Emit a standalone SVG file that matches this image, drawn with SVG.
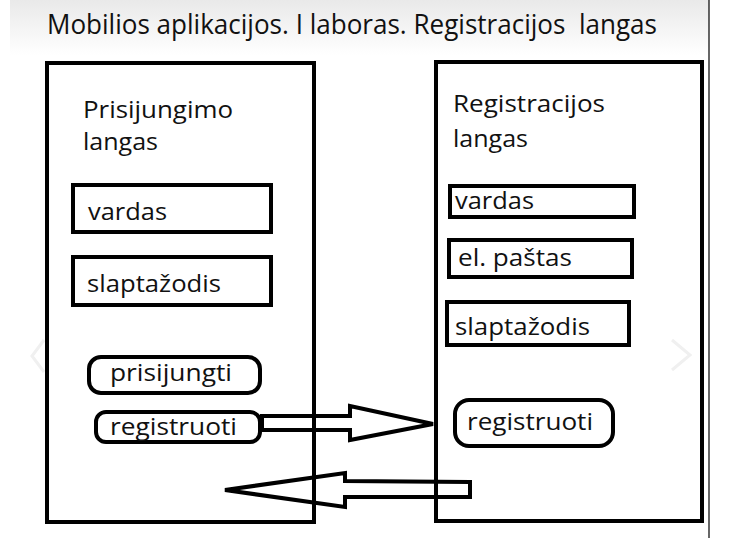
<svg xmlns="http://www.w3.org/2000/svg" width="734" height="555" viewBox="0 0 734 555">
  <defs>
    <linearGradient id="band" x1="0" y1="0" x2="0" y2="1">
      <stop offset="0" stop-color="#e9e9e9"/>
      <stop offset="1" stop-color="#ffffff"/>
    </linearGradient>
  </defs>
  <style>
    .frame { fill: none; stroke: #000; stroke-width: 4; }
    .field { fill: #fff; stroke: #000; stroke-width: 4; }
    .btn { fill: #fff; stroke: #000; stroke-width: 4; }
    .arrow { fill: none; stroke: #000; stroke-width: 4; stroke-linejoin: miter; }
    .lbl { font-family: "Open Sans", "Noto Sans", sans-serif; font-size: 24px; fill: #111; }
    .title { font-family: "Open Sans", "Noto Sans", sans-serif; font-size: 27px; fill: #111; white-space: pre; }
    .ghost { fill: none; stroke: #f0f0f0; stroke-width: 3; }
  </style>
  <rect x="0" y="0" width="734" height="555" fill="#fff"/>
  <rect x="10" y="0" width="699" height="55" fill="url(#band)"/>
  <line x1="709" y1="0" x2="709" y2="538" stroke="#000" stroke-width="1.2"/>
  <text class="title" x="47" y="34" xml:space="preserve" textLength="610" lengthAdjust="spacingAndGlyphs">Mobilios aplikacijos. I laboras. Registracijos  langas</text>

  <polyline class="ghost" points="44,340 32,356 44,372"/>
  <polyline class="ghost" points="672,340 690,355 672,370"/>

  <g id="login-window">
    <rect class="frame" x="47" y="63" width="267" height="459"/>
    <text class="lbl" x="83" y="118" textLength="150" lengthAdjust="spacingAndGlyphs">Prisijungimo</text>
    <text class="lbl" x="83" y="150" textLength="75" lengthAdjust="spacingAndGlyphs">langas</text>
  </g>
  <g id="login-vardas">
    <rect class="field" x="73" y="185" width="198" height="47"/>
    <text class="lbl" x="88" y="220" textLength="79" lengthAdjust="spacingAndGlyphs">vardas</text>
  </g>
  <g id="login-slaptazodis">
    <rect class="field" x="73" y="257" width="198" height="48"/>
    <text class="lbl" x="87" y="292" textLength="134" lengthAdjust="spacingAndGlyphs">slaptažodis</text>
  </g>
  <g id="btn-prisijungti">
    <rect class="btn" x="89" y="357" width="171" height="36" rx="12" ry="12"/>
    <text class="lbl" x="110" y="381" textLength="122" lengthAdjust="spacingAndGlyphs">prisijungti</text>
  </g>
  <g id="btn-registruoti-left">
    <rect class="btn" x="96" y="412" width="164" height="30" rx="10" ry="10"/>
    <text class="lbl" x="110" y="435" textLength="127" lengthAdjust="spacingAndGlyphs">registruoti</text>
  </g>

  <g id="register-window">
    <rect class="frame" x="436" y="62" width="266" height="459"/>
    <text class="lbl" x="453" y="112" textLength="152" lengthAdjust="spacingAndGlyphs">Registracijos</text>
    <text class="lbl" x="453" y="147" textLength="75" lengthAdjust="spacingAndGlyphs">langas</text>
  </g>
  <g id="reg-vardas">
    <rect class="field" x="450" y="186" width="184" height="31"/>
    <text class="lbl" x="455" y="209" textLength="79" lengthAdjust="spacingAndGlyphs">vardas</text>
  </g>
  <g id="reg-elpastas">
    <rect class="field" x="449" y="240" width="183" height="37"/>
    <text class="lbl" x="458" y="266" textLength="114" lengthAdjust="spacingAndGlyphs">el. paštas</text>
  </g>
  <g id="reg-slaptazodis">
    <rect class="field" x="447" y="302" width="182" height="43"/>
    <text class="lbl" x="455" y="335" textLength="135" lengthAdjust="spacingAndGlyphs">slaptažodis</text>
  </g>
  <g id="btn-registruoti-right">
    <rect class="btn" x="455" y="400" width="158" height="46" rx="14" ry="14"/>
    <text class="lbl" x="467" y="430" textLength="126" lengthAdjust="spacingAndGlyphs">registruoti</text>
  </g>

  <g id="connectors">
    <polygon class="arrow" points="262,416 350,416 350,406 433,424 350,440 350,430 262,430"/>
    <polygon class="arrow" points="470,482 345,481 345,473 225,490 345,507 345,497 470,497"/>
  </g>
</svg>
